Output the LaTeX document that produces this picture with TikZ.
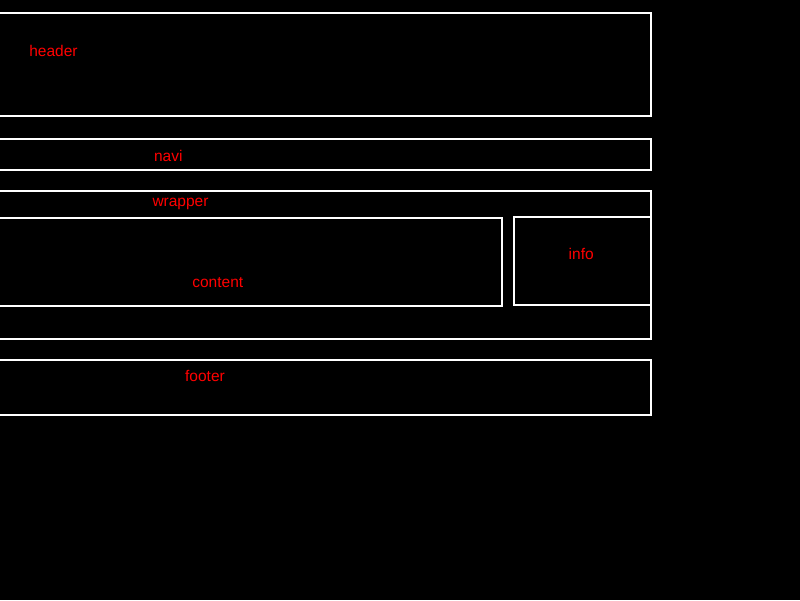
\documentclass[tikz,border=0pt]{standalone}
\usepackage{fontspec}
\setmainfont{Liberation Sans}
\usetikzlibrary{positioning}
\tikzset{
	frame/.style={
		draw=white,
		line width=2pt,
		inner sep=0pt,
		outer sep=0pt,
		anchor=north west,
	},
	labe/.style={
		text=red,
		inner sep=0pt,
		anchor=base,
		font={\fontsize{15.5}{18}\selectfont},
	},
}

\begin{document}
\begin{tikzpicture}[x=1pt, y=-1pt]
		\fill[black] (0,0) rectangle (800,600);
		\useasboundingbox (0,0) rectangle (800,600);
		
		% boxes, left edges run off the page
		\node(header)[frame, minimum width=661pt, minimum height=102.5pt] at (-10,13) {};
		\node(navi)[frame, minimum width=661pt, minimum height=31pt] at (-10,139.3) {};
		\node(wrapper)[frame, minimum width=661pt, minimum height=148.3pt] at (-10,191) {};
		\node(content)[frame, minimum width=512pt, minimum height=87.7pt] at (-10,218.3) {};
		\node(info)[frame, minimum width=137pt, minimum height=88.3pt] at (514,216.7) {};
		\node(footer)[frame, minimum width=661pt, minimum height=54.7pt] at (-10,360) {};
		
		% labels
		\node(headerlbl)[labe] at (53.5,56) {header};
		\node(navilbl)[labe] at (168.3,161) {navi};
		\node(wrapperlbl)[labe] at (180.5,206) {wrapper};
		\node(contentlbl)[labe] at (217.8,287.3) {content};
		\node(infolbl)[labe] at (581.2,259) {info};
		\node(footerlbl)[labe] at (205,381) {footer};
		
\end{tikzpicture}
\end{document}
